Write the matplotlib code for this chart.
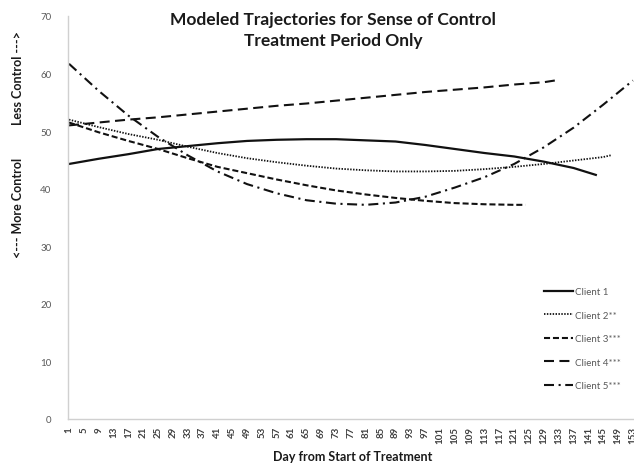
import matplotlib
matplotlib.use("Agg")
import matplotlib.pyplot as plt

# ---- data ----
days_c1 = [1, 9, 17, 25, 33, 41, 49, 57, 65, 73, 81, 89, 97, 105, 113, 121, 129, 137, 143]
client1 = [44.3, 45.2, 46.0, 46.9, 47.4, 47.9, 48.3, 48.5, 48.6, 48.6, 48.4, 48.2, 47.6, 46.9, 46.2, 45.6, 44.7, 43.6, 42.4]

days_c2 = [1, 9, 17, 25, 33, 41, 49, 57, 65, 73, 81, 89, 97, 105, 113, 121, 129, 137, 145, 147]
client2 = [52.0, 50.7, 49.5, 48.5, 47.3, 46.2, 45.3, 44.6, 44.0, 43.5, 43.2, 43.0, 43.0, 43.1, 43.4, 43.8, 44.3, 44.9, 45.5, 45.8]

days_c3 = [1, 9, 17, 25, 33, 41, 49, 57, 65, 73, 81, 89, 97, 105, 113, 121, 124]
client3 = [51.5, 49.8, 48.3, 46.9, 45.3, 43.8, 42.7, 41.6, 40.6, 39.7, 39.0, 38.4, 37.9, 37.5, 37.3, 37.2, 37.2]

days_c4 = [1, 9, 17, 25, 33, 41, 49, 57, 65, 73, 81, 89, 97, 105, 113, 121, 129, 132]
client4 = [51.0, 51.5, 52.0, 52.4, 52.9, 53.4, 53.9, 54.4, 54.8, 55.3, 55.8, 56.3, 56.8, 57.2, 57.6, 58.1, 58.5, 58.8]

days_c5 = [1, 9, 17, 25, 33, 41, 49, 57, 65, 73, 81, 89, 97, 105, 113, 121, 129, 137, 145, 153]
client5 = [61.7, 57.0, 52.7, 49.0, 45.8, 43.0, 40.8, 39.2, 38.0, 37.4, 37.2, 37.6, 38.6, 40.2, 42.0, 44.3, 47.2, 50.6, 54.6, 58.8]

labels = ["Client 1", "Client 2**", "Client 3***", "Client 4***", "Client 5***"]
x_tick_days = list(range(1, 154, 4))
y_ticks = [0, 10, 20, 30, 40, 50, 60, 70]

title_lines = ["Modeled Trajectories for Sense of Control", "Treatment Period Only"]
x_title = "Day from Start of Treatment"

plt.rcParams['font.family'] = ['Lato', 'DejaVu Sans']

W, H = 634, 464
fig = plt.figure(figsize=(W / 100, H / 100), dpi=100)
ax = fig.add_axes([68 / W, (H - 420) / H, (W - 68) / W, (420 - 17) / H])

lw = 1.5
ink = "#111111"
ax.plot(days_c1, client1, color=ink, lw=1.6, linestyle="-", label=labels[0])
ax.plot(days_c2, client2, color=ink, lw=1.3, linestyle=(0, (0.8, 0.8)), label=labels[1])
ax.plot(days_c3, client3, color=ink, lw=lw, linestyle=(0, (2.9, 1.4)), label=labels[2])
ax.plot(days_c4, client4, color=ink, lw=lw, linestyle=(0, (4.8, 2.6)), label=labels[3])
ax.plot(days_c5, client5, color=ink, lw=lw, linestyle=(0, (4.8, 2.2, 1.0, 2.2)), label=labels[4])

px_per_day = 3.71
ax.set_xlim(1 - (69 - 68) / px_per_day, 1 + (634 - 69) / px_per_day)
ax.set_ylim(0, 70)

ax.set_xticks(x_tick_days)
ax.set_xticklabels([str(d) for d in x_tick_days], rotation=90, fontsize=7,
                   color="#404040", fontweight="bold")
ax.set_yticks(y_ticks)
ax.set_yticklabels([str(v) for v in y_ticks], fontsize=7, color="#595959")
ax.tick_params(axis="both", length=0)
ax.tick_params(axis="y", pad=12)
ax.tick_params(axis="x", pad=5)

for s in ["top", "right"]:
    ax.spines[s].set_visible(False)
for s in ["left", "bottom"]:
    ax.spines[s].set_color("#d0d0d0")
    ax.spines[s].set_linewidth(1.0)

leg = ax.legend(loc="upper left", bbox_to_anchor=((544 - 68) / (W - 68), (420 - 288) / (420 - 17)),
                frameon=False, fontsize=7, handlelength=3.0, handletextpad=0.15,
                labelspacing=1.5, borderaxespad=0, borderpad=0)
for t in leg.get_texts():
    t.set_color("#595959")

fig.text(333 / W, 1 - 20 / H, title_lines[0], ha="center", va="center",
         fontsize=12.5, fontweight="bold", color="#1a1a1a")
fig.text(333 / W, 1 - 41 / H, title_lines[1], ha="center", va="center",
         fontsize=12.5, fontweight="bold", color="#1a1a1a")

fig.text(353 / W, 1 - 457 / H, x_title, ha="center", va="center",
         fontsize=9, fontweight="bold", color="#1a1a1a")

fig.text(18 / W, 1 - 78 / H, "Less Control --->", rotation=90, ha="center", va="center",
         fontsize=9, fontweight="bold", color="#1a1a1a")
fig.text(18 / W, 1 - 208 / H, "<--- More Control", rotation=90, ha="center", va="center",
         fontsize=9, fontweight="bold", color="#1a1a1a")

fig.savefig("out.png", dpi=100)
